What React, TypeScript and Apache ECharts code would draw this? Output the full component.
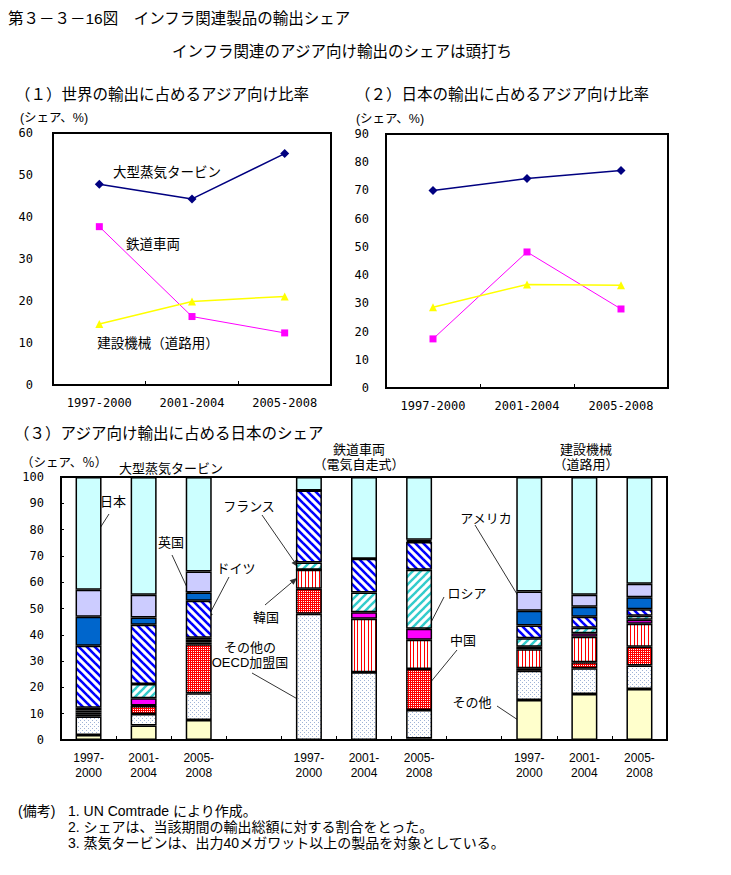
import React, { useEffect, useRef } from 'react';
import * as echarts from 'echarts';

const FONT = "'Liberation Sans', 'Noto Sans CJK JP', sans-serif";
const MONO = "'DejaVu Sans Mono', monospace";

// (1)(2) periods
const periods = ['1997-2000', '2001-2004', '2005-2008'];

// (1) share of Asia in world exports (%)
const worldTurbine = [47.8, 44.3, 55.1];
const worldRail = [37.7, 16.3, 12.4];
const worldConstruction = [14.5, 19.9, 21.1];

// (2) share of Asia in Japan's exports (%)
const japanTurbine = [70.0, 74.2, 77.1];
const japanRail = [17.4, 48.2, 28.0];
const japanConstruction = [28.6, 36.7, 36.4];

// (3) categories (three product groups separated by empty slots)
const stackCategories = [
  '1997-\n2000', '2001-\n2004', '2005-\n2008', '',
  '1997-\n2000', '2001-\n2004', '2005-\n2008', '',
  '1997-\n2000', '2001-\n2004', '2005-\n2008',
];
const yTicks1 = [0, 60, 10];
const yTicks2 = [0, 90, 10];
const yTicks3 = [0, 100, 10];

// (3) shares of Asian imports by exporter: turbine x3, rail x3, construction x3
const otherShare = [1.9, 5.5, 7.6, 0, 0, 0.6, 15.2, 17.5, 19.4];
const otherOecdShare = [7.0, 4.4, 10.2, 48.0, 25.8, 10.8, 11.1, 9.8, 8.9];
const chinaShare = [0.9, 3.0, 18.6, 9.5, 0, 15.6, 1.0, 2.3, 7.2];
const koreaShare = [0.6, 0.2, 0.7, 7.2, 20.3, 11.1, 7.2, 9.7, 8.7];
const russiaShare = [0.8, 2.8, 1.0, 0, 2.5, 4.2, 1.0, 1.3, 1.5];
const franceShare = [1.1, 5.4, 0.8, 2.8, 7.5, 22.4, 3.2, 2.1, 1.5];
const germanyShare = [23.5, 22.5, 14.0, 27.4, 12.8, 10.6, 4.8, 4.2, 2.5];
const ukShare = [11.1, 2.8, 3.2, 0, 0, 0.4, 5.6, 3.8, 4.6];
const usShare = [10.2, 8.6, 8.0, 0, 0, 0.4, 7.4, 4.5, 5.1];
const japanShare = [42.9, 44.8, 35.9, 5.1, 31.1, 23.9, 43.5, 44.8, 40.6];

function spread(a: number[]) {
  return [a[0], a[1], a[2], '-', a[3], a[4], a[5], '-', a[6], a[7], a[8]];
}

function tile(w: number, h: number, draw: (ctx: CanvasRenderingContext2D) => void): any {
  const c = document.createElement('canvas');
  c.width = w;
  c.height = h;
  const ctx = c.getContext('2d')!;
  ctx.fillStyle = '#fff';
  ctx.fillRect(0, 0, w, h);
  draw(ctx);
  return { image: c.toDataURL(), repeat: 'repeat', imageWidth: w, imageHeight: h };
}

function txt(text: string, x: number, y: number, size: number, align = 'left', lineHeight?: number): any {
  const style: any = { text, fontSize: size, fontFamily: FONT, fill: '#000', align, verticalAlign: 'middle' };
  if (lineHeight) style.lineHeight = lineHeight;
  return { type: 'text', x, y, style };
}

function arrow(x1: number, y1: number, x2: number, y2: number): any[] {
  const ang = Math.atan2(y2 - y1, x2 - x1);
  const len = 7;
  const half = 3;
  const bx = x2 - len * Math.cos(ang);
  const by = y2 - len * Math.sin(ang);
  const px = -Math.sin(ang) * half;
  const py = Math.cos(ang) * half;
  return [
    { type: 'line', shape: { x1, y1, x2: bx, y2: by }, style: { stroke: '#333', lineWidth: 1 } },
    {
      type: 'polygon',
      shape: { points: [[x2, y2], [bx + px, by + py], [bx - px, by - py]] },
      style: { fill: '#333' },
    },
  ];
}

export default function App() {
  const ref = useRef<HTMLDivElement>(null);

  useEffect(() => {
    if (!ref.current) return;
    const chart = echarts.init(ref.current, null, { renderer: 'svg' });

    const germanyPat = tile(8, 8, (ctx) => {
      ctx.strokeStyle = '#0000FF';
      ctx.lineWidth = 2.6;
      for (const o of [-8, 0, 8]) {
        ctx.beginPath();
        ctx.moveTo(o - 2, -2);
        ctx.lineTo(o + 10, 10);
        ctx.stroke();
      }
    });
    const francePat = tile(8, 8, (ctx) => {
      ctx.strokeStyle = '#33CCCC';
      ctx.lineWidth = 2.4;
      for (const o of [-8, 0, 8]) {
        ctx.beginPath();
        ctx.moveTo(o - 2, 10);
        ctx.lineTo(o + 10, -2);
        ctx.stroke();
      }
    });
    const koreaPat = tile(7, 4, (ctx) => {
      ctx.fillStyle = '#FF0000';
      ctx.fillRect(0, 0, 1, 4);
      ctx.fillRect(4, 0, 1, 4);
    });
    const chinaPat = tile(2, 2, (ctx) => {
      ctx.fillStyle = '#FF0000';
      ctx.fillRect(0, 0, 2, 2);
      ctx.fillStyle = '#FFFFFF';
      ctx.fillRect(1, 1, 1, 1);
    });
    const oecdPat = tile(4, 4, (ctx) => {
      ctx.fillStyle = '#9FB3D6';
      ctx.fillRect(0, 0, 1, 1);
      ctx.fillRect(2, 2, 1, 1);
    });

    const stackDefs = [
      { name: 'その他', data: otherShare, color: '#FFFFCC' },
      { name: 'その他のOECD加盟国', data: otherOecdShare, color: oecdPat },
      { name: '中国', data: chinaShare, color: chinaPat },
      { name: '韓国', data: koreaShare, color: koreaPat },
      { name: 'ロシア', data: russiaShare, color: '#FF00FF' },
      { name: 'フランス', data: franceShare, color: francePat },
      { name: 'ドイツ', data: germanyShare, color: germanyPat },
      { name: '英国', data: ukShare, color: '#0066CC' },
      { name: 'アメリカ', data: usShare, color: '#CCCCFF' },
      { name: '日本', data: japanShare, color: '#CCFFFF' },
    ];

    const axisLine = { show: true, lineStyle: { color: '#000', width: 2 } };

    const catAxis = (gridIndex: number, data: string[], extra: any = {}) => ({
      gridIndex,
      type: 'category',
      data,
      axisLine,
      axisTick: { show: true, inside: true, length: 4, lineStyle: { color: '#000', width: 1 } },
      axisLabel: { color: '#000', fontSize: 12, margin: 12, fontFamily: MONO, interval: 0, ...extra },
      splitLine: { show: false },
    });

    const valAxis = (gridIndex: number, t: number[], margin: number, ticks: boolean) => ({
      gridIndex,
      type: 'value',
      min: t[0],
      max: t[1],
      interval: t[2],
      axisLine,
      axisTick: { show: ticks, inside: true, length: 3, lineStyle: { color: '#000' } },
      axisLabel: { color: '#000', fontSize: 12, margin, fontFamily: MONO },
      splitLine: { show: false },
    });

    const lineSeries = (idx: number, name: string, data: number[], color: string, symbol: string, size: number, width: number) => ({
      type: 'line',
      name,
      xAxisIndex: idx,
      yAxisIndex: idx,
      data,
      symbol,
      symbolSize: size,
      lineStyle: { color, width },
      itemStyle: { color },
      z: 3,
    });

    const graphics: any[] = [
      txt('第３－３－16図　インフラ関連製品の輸出シェア', 8, 18, 15.5),
      txt('インフラ関連のアジア向け輸出のシェアは頭打ち', 342, 51, 15.5, 'center'),
      txt('（１）世界の輸出に占めるアジア向け比率', 15, 94, 15.5),
      txt('（２）日本の輸出に占めるアジア向け比率', 355, 94, 15.5),
      txt('(シェア、%)', 54, 118, 12.5, 'center'),
      txt('(シェア、%)', 390, 119, 12.5, 'center'),
      txt('大型蒸気タービン', 167, 172, 13.5, 'center'),
      txt('鉄道車両', 153, 244, 13.5, 'center'),
      txt('建設機械（道路用）', 158, 343, 13.5, 'center'),
      txt('（３）アジア向け輸出に占める日本のシェア', 14, 433, 15.5),
      txt('（シェア、％）', 64, 463, 12.5, 'center'),
      txt('大型蒸気タービン', 171, 468, 13, 'center'),
      txt('鉄道車両\n（電気自走式）', 359, 457, 13, 'center', 15.5),
      txt('建設機械\n（道路用）', 586, 457, 13, 'center', 15.5),
      txt('日本', 113, 501, 13, 'center'),
      txt('英国', 171, 542, 13, 'center'),
      txt('ドイツ', 236, 568, 13, 'center'),
      txt('フランス', 249, 506, 13, 'center'),
      txt('韓国', 266, 617, 13, 'center'),
      txt('その他の\nOECD加盟国', 250, 655, 13, 'center', 15),
      txt('ロシア', 467, 593, 13, 'center'),
      txt('中国', 463, 640, 13, 'center'),
      txt('その他', 472, 702, 13, 'center'),
      txt('アメリカ', 486, 518, 13, 'center'),
      ...arrow(109, 514, 93, 539),
      ...arrow(172, 555, 191, 596),
      ...arrow(229, 577, 207, 619),
      ...arrow(262, 515, 298, 567),
      ...arrow(265, 605, 297, 578),
      ...arrow(252, 673, 308, 705),
      ...arrow(444, 597, 425, 634),
      ...arrow(457, 650, 425, 689),
      ...arrow(475, 525, 523, 604),
      ...arrow(497, 706, 530, 728),
      txt('(備考)', 18, 811, 14),
      txt(
        '1. UN Comtrade により作成。\n2. シェアは、当該期間の輸出総額に対する割合をとった。\n3. 蒸気タービンは、出力40メガワット以上の製品を対象としている。',
        68,
        827,
        14,
        'left',
        16.3
      ),
    ];

    const option: any = {
      animation: false,
      backgroundColor: '#fff',
      textStyle: { fontFamily: FONT },
      grid: [
        { left: 53, top: 133, width: 278, height: 252, show: true, borderColor: '#000', borderWidth: 2 },
        { left: 386, top: 134, width: 282, height: 254, show: true, borderColor: '#000', borderWidth: 2 },
        { left: 61, top: 477, width: 606, height: 263, show: true, borderColor: '#000', borderWidth: 2 },
      ],
      xAxis: [
        catAxis(0, periods),
        catAxis(1, periods),
        catAxis(2, stackCategories, { fontFamily: "'Liberation Sans', sans-serif", lineHeight: 15, margin: 10 }),
      ],
      yAxis: [
        valAxis(0, yTicks1, 20, false),
        valAxis(1, yTicks2, 17, false),
        valAxis(2, yTicks3, 17, true),
      ],
      series: [
        lineSeries(0, '大型蒸気タービン', worldTurbine, '#000080', 'diamond', 9, 1.5),
        lineSeries(0, '鉄道車両', worldRail, '#FF00FF', 'rect', 7, 1),
        lineSeries(0, '建設機械（道路用）', worldConstruction, '#FFFF00', 'triangle', 8, 1.5),
        lineSeries(1, '大型蒸気タービン', japanTurbine, '#000080', 'diamond', 9, 1.5),
        lineSeries(1, '鉄道車両', japanRail, '#FF00FF', 'rect', 7, 1),
        lineSeries(1, '建設機械（道路用）', japanConstruction, '#FFFF00', 'triangle', 8, 1.5),
        ...stackDefs.map((d) => ({
          type: 'bar',
          name: d.name,
          xAxisIndex: 2,
          yAxisIndex: 2,
          stack: 'share',
          barWidth: 26,
          data: spread(d.data),
          itemStyle: { color: d.color, borderColor: '#000', borderWidth: 1.5 },
        })),
      ],
      graphic: graphics,
    };

    chart.setOption(option);
    return () => chart.dispose();
  }, []);

  return (
    <div
      ref={ref}
      style={{ position: 'absolute', left: 0, top: 0, width: 731, height: 875, background: '#fff' }}
    />
  );
}
